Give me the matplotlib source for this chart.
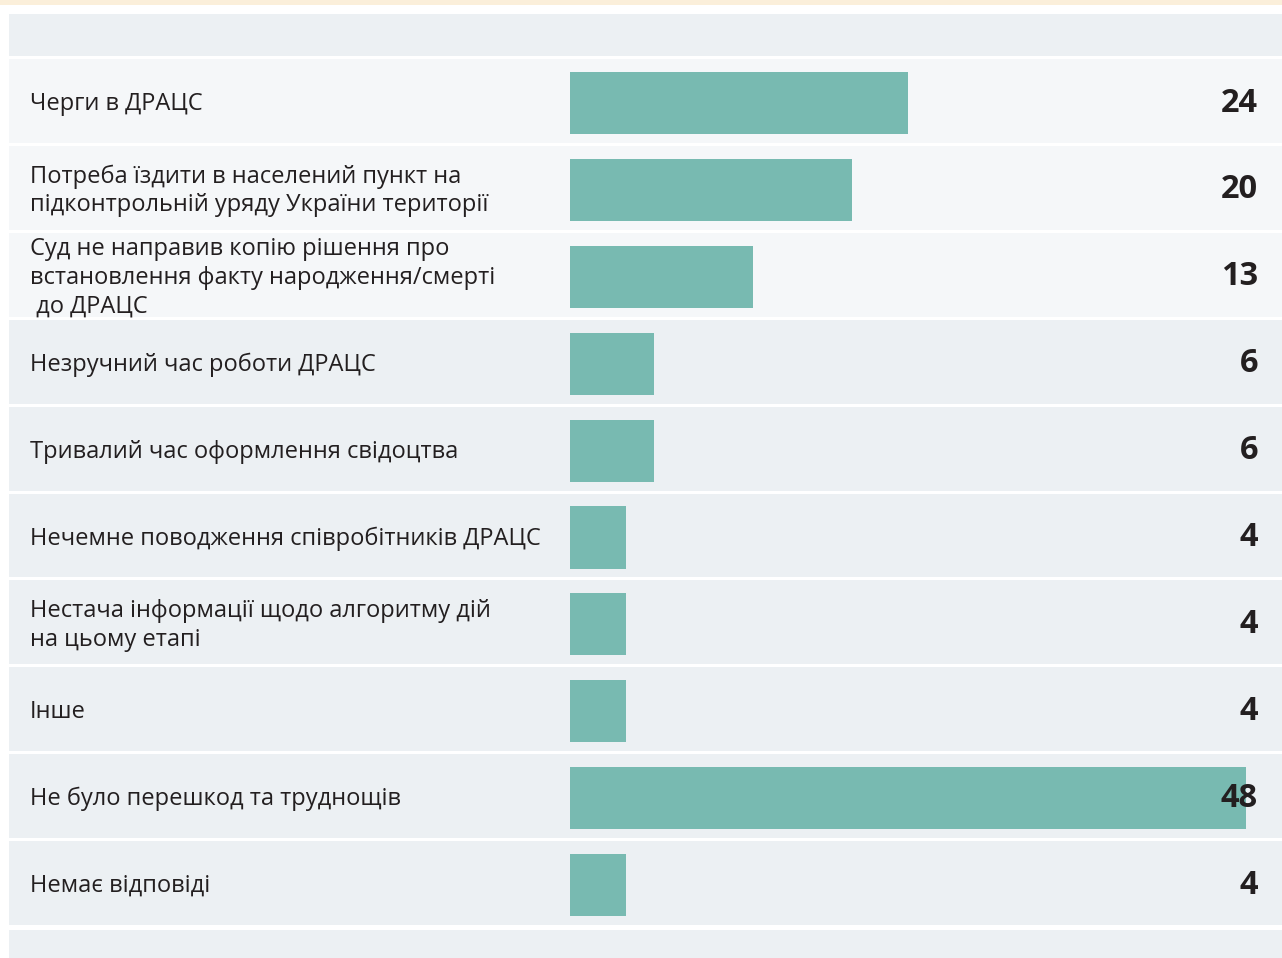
import matplotlib.pyplot as plt
import matplotlib.transforms as mtransforms

# --- Données
labels = [
    "Черги в ДРАЦС",
    "Потреба їздити в населений пункт на\nпідконтрольній уряду України території",
    "Суд не направив копію рішення про\nвстановлення факту народження/смерті\n до ДРАЦС",
    "Незручний час роботи ДРАЦС",
    "Тривалий час оформлення свідоцтва",
    "Нечемне поводження співробітників ДРАЦС",
    "Нестача інформації щодо алгоритму дій\nна цьому етапі",
    "Інше",
    "Не було перешкод та труднощів",
    "Немає відповіді",
]
values = [24, 20, 13, 6, 6, 4, 4, 4, 48, 4]
light_rows = [True, True, True, False, False, False, False, False, False, False]

BAR = "#78BAB1"
BG_LIGHT = "#F5F7F9"
BG_DARK = "#ECF0F3"
TXT = "#231F20"

plt.rcParams["font.family"] = ["Open Sans", "DejaVu Sans"]

W, H = 1282, 958
fig = plt.figure(figsize=(W / 100, H / 100), dpi=100)
fig.patch.set_facecolor("white")
ax = fig.add_axes([0, 0, 1, 1])
ax.set_facecolor("white")

# échelle : 14.08 px par unité, barres à partir de x=570 px ; lignes de 86.9 px
px_per_unit = 14.08
x0 = 570
ax.set_xlim(-x0 / px_per_unit, (W - x0) / px_per_unit)
row_h = 86.9
y0 = 103  # centre de la première barre
ax.set_ylim((H - y0) / row_h, -y0 / row_h)

def py(p):
    """pixel vertical -> unité de ligne"""
    return (p - y0) / row_h

xmin_frac = 9 / W
gap = 1.5 / row_h
shift = -2 / row_h  # fonds légèrement au-dessus des barres

# bande crème en haut
ax.axhspan(py(0), py(5), color="#FBEFDA", lw=0)
# en-tête et pied
ax.axhspan(py(14), py(56), xmin=xmin_frac, color=BG_DARK, lw=0)
ax.axhspan(py(930), py(H), xmin=xmin_frac, color=BG_DARK, lw=0)

for i, light in enumerate(light_rows):
    ax.axhspan(i - 0.5 + gap + shift, i + 0.5 - gap + shift, xmin=xmin_frac,
               color=BG_LIGHT if light else BG_DARK, lw=0)

y = list(range(len(labels)))
ax.barh(y, values, left=0, height=0.715, color=BAR, edgecolor="none", zorder=2)

trans = mtransforms.blended_transform_factory(ax.transAxes, ax.transData)
text_dy = 1 / row_h
for i, (lab, v) in enumerate(zip(labels, values)):
    ax.text(30 / W, i + text_dy, lab, transform=trans, ha="left", va="center",
            fontsize=17, color=TXT, linespacing=1.25, zorder=3)
    ax.text(1258 / W, i, str(v), transform=trans, ha="right", va="center",
            fontsize=23.5, fontweight="bold", color=TXT, zorder=3)

ax.axis("off")

fig.savefig("out.png", dpi=100)
